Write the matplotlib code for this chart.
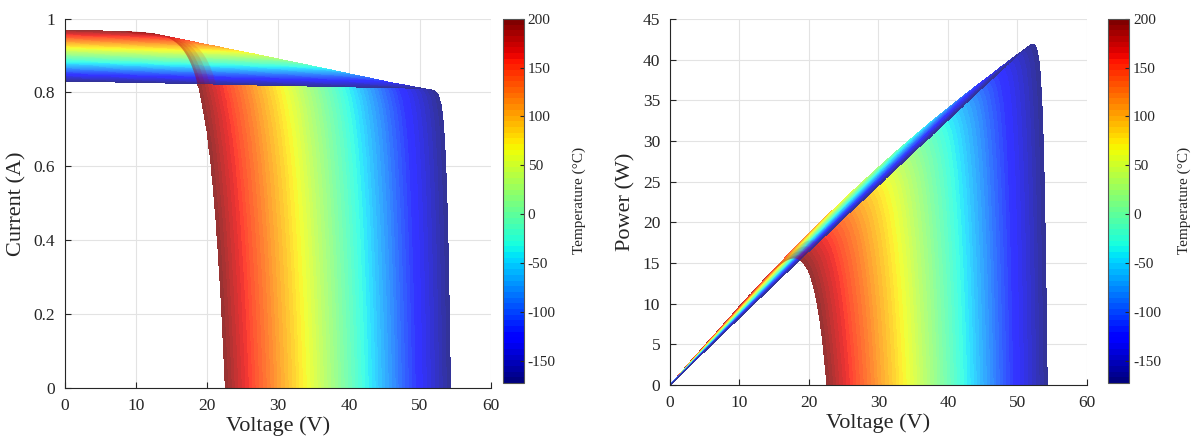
import numpy as np
import matplotlib
matplotlib.use("Agg")
import matplotlib.pyplot as plt
from matplotlib.colors import Normalize, to_rgba_array
from matplotlib.cm import ScalarMappable

plt.rcParams["font.family"] = ["Liberation Serif", "DejaVu Serif"]
plt.rcParams["axes.unicode_minus"] = False

# ---- values ----
# short-circuit current (V = 0) and open-circuit voltage (I = 0) per temperature
temp_read = [-173, -126, -33, 60, 153, 200]            # deg C
isc_read = [0.830, 0.848, 0.883, 0.918, 0.953, 0.970]  # A
voc_read = [54.35, 49.8, 42.3, 34.6, 26.4, 22.5]       # V
# knee shape, fitted to points read on the hottest and coldest curve
a_hot = 1.9        # V, diode slope at 200 deg C
r_series = 0.2     # ohm
r_shunt = 2500.0   # ohm

t_min, t_max = -173, 200
cbar_ticks = [-150, -100, -50, 0, 50, 100, 150, 200]
shadow_temps = [195, 188, 180, 170]   # hot knees seen through the band

frac = np.concatenate([np.geomspace(1, 1e-4, 400), [0.0]])


def iv_curve(t):
    isc = np.interp(t, temp_read, isc_read)
    voc = np.interp(t, temp_read, voc_read)
    a = a_hot * (t + 273.15) / (t_max + 273.15)
    vd0 = isc * r_series
    iph = isc * (1 + r_series / r_shunt)
    i0 = (iph - voc / r_shunt) / np.expm1(voc / a)
    vd = vd0 + (voc - vd0) * (1 - frac)
    cur = iph - i0 * np.expm1(vd / a) - vd / r_shunt
    return vd - cur * r_series, np.clip(cur, 0, None), isc


# temperature grid, hot rows first so cooler rows sit on top
temps = np.arange(t_max, t_min - 1, -1.0)
rows = [iv_curve(t) for t in temps]
V = np.array([r[0] for r in rows])
I = np.array([r[1] for r in rows])
P = V * I
t_mid = 0.5 * (temps[:-1] + temps[1:])
C = np.repeat(t_mid[:, None], V.shape[1] - 1, axis=1)

# jet(64) seen at 80 % opacity over white
base = plt.get_cmap("jet", 64)
cmap = base.from_list("jet_soft", 0.8 * base(np.arange(64)) + 0.2, N=64)
norm = Normalize(vmin=t_min, vmax=t_max)

# shadow of the hottest knees through the band
v_hot, i_hot, isc_hot = iv_curve(t_max)
v_cold, i_cold, _ = iv_curve(t_min)


def knee_part(v, i, isc):
    m = (i < isc - 0.004) & (i >= np.interp(v, v_cold, i_cold) - 0.002)
    return v[m], i[m]


shadows = []
vh, ih = knee_part(v_hot, i_hot, isc_hot)
for t in shadow_temps:
    vk, ik, isck = iv_curve(t)
    vk, ik = knee_part(vk, ik, isck)
    shadows.append((np.concatenate([vh, vk[::-1]]),
                    np.concatenate([ih, ik[::-1]]), base(norm(t))))

fig = plt.figure(figsize=(12, 4.43), dpi=100)
ax1 = fig.add_axes([0.0542, 0.124, 0.355, 0.834])
ax2 = fig.add_axes([0.5583, 0.131, 0.3475, 0.826])
cax1 = fig.add_axes([0.4192, 0.1355, 0.0171, 0.822])
cax2 = fig.add_axes([0.9233, 0.1355, 0.0175, 0.822])

axis_col = "#262626"

for ax, Y, ylim, yticks, ylabel, as_power in [
    (ax1, I, (0, 1), [0, 0.2, 0.4, 0.6, 0.8, 1], "Current (A)", False),
    (ax2, P, (0, 45), list(range(0, 46, 5)), "Power (W)", True),
]:
    ax.pcolormesh(V, Y, C, cmap=cmap, norm=norm, shading="flat",
                  edgecolors="none", antialiased=False)
    for sv, si, col in shadows:
        ax.fill(sv, sv * si if as_power else si, color=col, alpha=0.13,
                linewidth=0)
    ax.set_xlim(0, 60)
    ax.set_ylim(*ylim)
    ax.set_xticks(range(0, 61, 10))
    ax.set_yticks(yticks)
    if not as_power:
        ax.set_yticklabels(["0", "0.2", "0.4", "0.6", "0.8", "1"])
    ax.grid(True, color="#e3e3e3", linewidth=0.8)
    ax.set_axisbelow(True)
    for side in ["top", "right"]:
        ax.spines[side].set_visible(False)
    for side in ["left", "bottom"]:
        ax.spines[side].set_color(axis_col)
        ax.spines[side].set_linewidth(0.8)
    ax.tick_params(direction="in", length=4, width=0.8, color=axis_col,
                   labelsize=12.5, labelcolor=axis_col, pad=7)
    ax.set_xlabel("Voltage (V)", fontsize=16, color=axis_col, labelpad=2)
    ax.set_ylabel(ylabel, fontsize=16, color=axis_col, labelpad=5)

sm = ScalarMappable(norm=norm, cmap=base)
for cax in [cax1, cax2]:
    cb = fig.colorbar(sm, cax=cax, ticks=cbar_ticks)
    cb.outline.set_edgecolor("#555555")
    cb.outline.set_linewidth(0.8)
    cax.tick_params(direction="in", length=3, width=0.8, color=axis_col,
                    labelsize=11, labelcolor=axis_col, pad=3)
    cb.set_label("Temperature (°C)", fontsize=11, color=axis_col, labelpad=12)

fig.savefig("out.png", dpi=100)
